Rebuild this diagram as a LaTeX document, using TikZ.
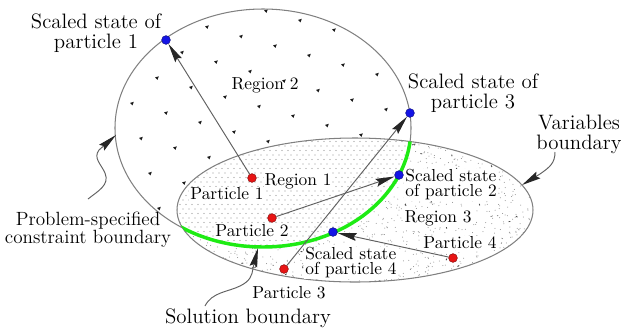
\documentclass[tikz,border=0pt]{standalone}
\usetikzlibrary{arrows.meta}
\definecolor{solgreen}{RGB}{30,235,20}
\definecolor{ptred}{RGB}{232,20,20}
\definecolor{stblue}{RGB}{20,20,230}
\begin{document}
\begin{tikzpicture}[x=0.575pt,y=-0.575pt,
  outline/.style={draw=black!50, line width=0.6pt},
  conn/.style={draw=black!62, line width=0.55pt,
    -{Stealth[length=11pt,width=4.4pt,inset=1.5pt,color=black!85]}},
  pdot/.style={circle, inner sep=0pt, minimum size=5pt, fill=ptred, draw=ptred!60!black, line width=0.3pt},
  sdot/.style={circle, inner sep=0pt, minimum size=5pt, fill=stblue, draw=stblue!60!black, line width=0.3pt},
  lbl/.style={inner sep=0.6pt, fill=white},
  twolbl/.style={lbl, align=left, font=\fontsize{10}{8.6}\selectfont},
  biglbl/.style={inner sep=0.6pt, font=\fontsize{12}{11.5}\selectfont, align=center},
]
\useasboundingbox (0,0) rectangle (621,329);

% sparse marks inside the constraint region
\begin{scope}
  \clip (263,128) ellipse [x radius=148, y radius=119];
  \foreach \i in {-8,...,12}{
    \foreach \j in {-3,...,12}{
      \fill[black!90, shift={({207+34*\i-25*\j},{27+9.5*\i+25.5*\j})}]
        (-2,-0.6) -- (1.8,-1.7) -- (0.5,1.8) -- cycle;
    }
  }
\end{scope}

% variables region: clear, then irregular grain outside the constraint
\fill[white] (355,210) ellipse [x radius=178, y radius=72];
\begin{scope}
  \clip (355,210) ellipse [x radius=178, y radius=72];
  \pgfmathsetseed{7}
  \fill[black!45] \foreach \k in {1,...,1500}{
    ({177+356*rnd},{138+144*rnd}) circle[radius=0.5]
  };
  \foreach \k in {1,...,80}{
    \pgfmathsetmacro\px{177+356*rnd}
    \pgfmathsetmacro\py{138+144*rnd}
    \pgfmathsetmacro\pa{180*rnd}
    \draw[black!70, line width=0.5pt] (\px,\py) -- ++(\pa:1.8);
  }
  \fill[white] (263,128) ellipse [x radius=148, y radius=119];
  % regular dot screen where both regions overlap
  \clip (263,128) ellipse [x radius=148, y radius=119];
  \fill[black!42] \foreach \r in {0,...,32}{
    \foreach \c in {0,...,60}{
      ({177+6*\c+3*mod(\r,2)},{137+4.5*\r}) circle[radius=0.55]
    }
  };
\end{scope}

% boundaries
\draw[outline] (263,128) ellipse [x radius=148, y radius=119];
\draw[outline] (355,210) ellipse [x radius=178, y radius=72];
\begin{scope}
  \clip (355,210) ellipse [x radius=178, y radius=72];
  \draw[solgreen, line width=2pt] (263,128) ellipse [x radius=148, y radius=119];
\end{scope}

% particles and their scaled states
\node[pdot] (p1) at (252,178) {};
\node[pdot] (p2) at (272,218) {};
\node[pdot] (p3) at (284,269) {};
\node[pdot] (p4) at (453,258) {};
\node[sdot] (s1) at (166,40) {};
\node[sdot] (s2) at (399,175) {};
\node[sdot] (s3) at (410,113) {};
\node[sdot] (s4) at (333,232) {};

\draw[conn] (p1) -- (s1);
\draw[conn] (p2) -- (s2);
\draw[conn] (p3) -- (s3);
\draw[conn] (p4) -- (s4);

% labels
\node[biglbl] (l1) at (96,33) {Scaled state of\\particle 1};
\node[biglbl] (l3) at (473,93) {Scaled state of\\particle 3};
\node[biglbl] (vb) at (579,134) {Variables\\boundary};
\node[inner sep=0.6pt, align=center, font=\fontsize{11}{10.3}\selectfont] (pc) at (88,230)
  {Problem-specified\\constraint boundary};
\node[biglbl] (sb) at (248,318) {Solution boundary};

\node[inner sep=0.6pt] (r2) at (265,85) {Region 2};
\node[lbl] (r1) at (298,181) {Region 1};
\node[lbl] (r3) at (438,218) {Region 3};
\node[lbl] (t1) at (227,194) {Particle 1};
\node[lbl] (t2) at (252,231) {Particle 2};
\node[inner sep=0.6pt] (t3) at (289,293) {Particle 3};
\node[lbl] (t4) at (460,243) {Particle 4};
\node[twolbl, anchor=west] (st2) at (404,185) {Scaled state\\of particle 2};
\node[twolbl] (st4) at (351,263) {Scaled state\\of particle 4};

% pointers to the boundaries
\coordinate (pcs) at (88,199);
\coordinate (pct) at (116,135);
\coordinate (vbs) at (555,152);
\coordinate (vbt) at (522,185);
\coordinate (sbs) at (205,306);
\coordinate (sbt) at (258,248);
\draw[conn] (pcs) .. controls (98,191) and (110,185) .. (105,173)
  .. controls (101,164) and (93,158) .. (99,150) -- (pct);
\draw[conn] (vbs) .. controls (555,163) and (550,167) .. (540,174) -- (vbt);
\draw[conn] (sbs) .. controls (212,292) and (228,292) .. (240,286)
  .. controls (250,281) and (252,276) .. (253,268) -- (sbt);
\end{tikzpicture}
\end{document}
